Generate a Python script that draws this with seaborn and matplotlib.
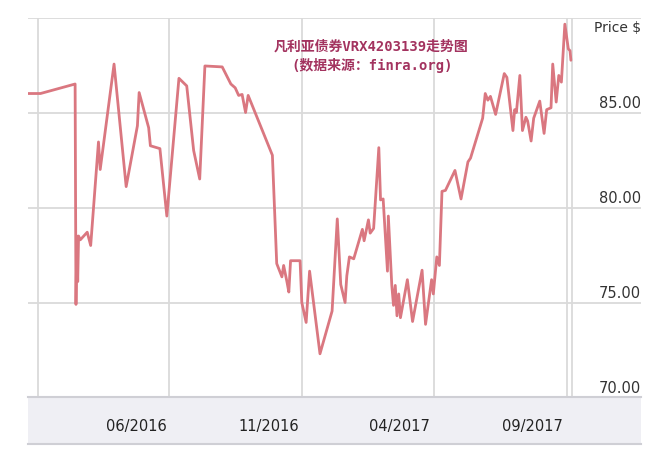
import pandas as pd
import numpy as np
import matplotlib
matplotlib.use('Agg')
import matplotlib.pyplot as plt
import matplotlib.dates as mdates
import seaborn as sns

# price history
dates = ['2016-01-27', '2016-02-11', '2016-03-22', '2016-03-23', '2016-03-24', '2016-03-25',
         '2016-03-26', '2016-03-28', '2016-04-05', '2016-04-09', '2016-04-18', '2016-04-20',
         '2016-05-06', '2016-05-20', '2016-06-02', '2016-06-04', '2016-06-15', '2016-06-17',
         '2016-06-28', '2016-07-06', '2016-07-20', '2016-07-29', '2016-08-06', '2016-08-13',
         '2016-08-19', '2016-09-08', '2016-09-18', '2016-09-23', '2016-09-27', '2016-10-01',
         '2016-10-05', '2016-10-08', '2016-11-05', '2016-11-10', '2016-11-16', '2016-11-18',
         '2016-11-22', '2016-11-24', '2016-11-26', '2016-12-07', '2016-12-09', '2016-12-14',
         '2016-12-18', '2016-12-30', '2017-01-13', '2017-01-19', '2017-01-23', '2017-01-28',
         '2017-01-30', '2017-02-02', '2017-02-07', '2017-02-17', '2017-02-19', '2017-02-24',
         '2017-02-26', '2017-03-02', '2017-03-08', '2017-03-10', '2017-03-13', '2017-03-18',
         '2017-03-19', '2017-03-23', '2017-03-25', '2017-03-27', '2017-03-29', '2017-03-31',
         '2017-04-02', '2017-04-10', '2017-04-16', '2017-04-27', '2017-05-01', '2017-05-08',
         '2017-05-10', '2017-05-14', '2017-05-17', '2017-05-20', '2017-05-24', '2017-06-04',
         '2017-06-11', '2017-06-19', '2017-06-22', '2017-07-06', '2017-07-09', '2017-07-12',
         '2017-07-15', '2017-07-21', '2017-07-31', '2017-08-03', '2017-08-10', '2017-08-12',
         '2017-08-14', '2017-08-18', '2017-08-21', '2017-08-25', '2017-08-27', '2017-08-31',
         '2017-09-03', '2017-09-10', '2017-09-15', '2017-09-18', '2017-09-23', '2017-09-25',
         '2017-09-29', '2017-10-02', '2017-10-05', '2017-10-09', '2017-10-13', '2017-10-15',
         '2017-10-16']
prices = [86.0, 86.0, 86.5, 74.9, 78.5, 76.1,
          78.5, 78.3, 78.7, 78.0, 83.45, 82.0,
          87.55, 81.1, 84.3, 86.05, 84.2, 83.25,
          83.1, 79.55, 86.8, 86.4, 83.0, 81.5,
          87.45, 87.4, 86.5, 86.3, 85.9, 85.95,
          85.0, 85.9, 82.75, 77.05, 76.35, 76.95,
          76.05, 75.55, 77.2, 77.2, 75.0, 73.95,
          76.65, 72.3, 74.55, 79.4, 75.95, 75.0,
          76.4, 77.4, 77.3, 78.85, 78.25, 79.35,
          78.65, 78.9, 83.15, 80.4, 80.45, 76.65,
          79.55, 75.9, 74.85, 75.9, 74.3, 75.45,
          74.2, 76.2, 74.0, 76.7, 73.85, 76.2,
          75.45, 77.4, 76.95, 80.85, 80.9, 81.95,
          80.45, 82.4, 82.6, 84.7, 86.0, 85.65,
          85.85, 84.9, 87.05, 86.85, 84.05, 85.15,
          85.0, 86.95, 84.05, 84.75, 84.55, 83.5,
          84.7, 85.6, 83.9, 85.15, 85.25, 87.55,
          85.55, 86.95, 86.6, 89.65, 88.35, 88.25,
          87.75]

y_labels = [70, 75, 80, 85]
y_grid = [70, 75, 80, 85, 90]
x_label_dates = ['2016-06-01', '2016-11-01', '2017-04-01', '2017-09-01']
x_label_text = ['06/2016', '11/2016', '04/2017', '09/2017']
x_grid_dates = ['2016-02-08', '2016-07-09', '2016-12-09', '2017-05-11', '2017-10-11', '2017-10-17']
x_range = ['2016-01-27', '2018-01-05']

df = pd.DataFrame({'date': pd.to_datetime(dates), 'price': prices})

sns.set_style('white')
plt.rcParams['font.family'] = ['DejaVu Sans', 'Noto Sans CJK SC']

fig = plt.figure(figsize=(6.6, 4.56), dpi=100)
ax = fig.add_axes([0.0417, 0.1261, 0.9295, 0.8333])
band = fig.add_axes([0.0417, 0.0241, 0.9295, 0.1020])

sns.lineplot(data=df, x='date', y='price', ax=ax, sort=False, estimator=None,
             color='#da7780', linewidth=2.0)

xmin, xmax = pd.to_datetime(x_range)
ax.set_xlim(xmin, xmax)
ax.set_ylim(70, 90)
ax.set_xticks(pd.to_datetime(x_grid_dates))
ax.set_yticks(y_grid)
ax.tick_params(length=0, labelleft=False, labelbottom=False)
ax.grid(True, color='#dadada', linewidth=1.3)
ax.set_axisbelow(True)
ax.set_xlabel('')
ax.set_ylabel('')
for s in ax.spines.values():
    s.set_visible(False)

for v in y_labels:
    ax.annotate(f'{v:.2f}', xy=(1.0, v), xycoords=('axes fraction', 'data'),
                xytext=(0, 2), textcoords='offset points', ha='right', va='bottom',
                fontsize=10.5, color='#333333')
ax.annotate('Price $', xy=(1.0, 90), xycoords=('axes fraction', 'data'),
            xytext=(0, -1.5), textcoords='offset points', ha='right', va='top',
            fontsize=10, color='#333333')

# date strip under the plot
band.set_facecolor('#efeff4')
band.set_xlim(xmin, xmax)
band.set_xticks([])
band.set_yticks([])
for side in ['left', 'right']:
    band.spines[side].set_visible(False)
for side in ['top', 'bottom']:
    band.spines[side].set_color('#cfcfd5')
    band.spines[side].set_linewidth(1.5)
for d, t in zip(x_label_dates, x_label_text):
    band.text(mdates.date2num(pd.Timestamp(d)), 0.40, t, transform=band.get_xaxis_transform(),
              ha='center', va='center', fontsize=10.5, color='#222222')

title_font = ['DejaVu Sans Mono', 'Noto Sans CJK SC']
fig.text(0.562, 0.899, '凡利亚债券VRX4203139走势图', ha='center', va='center',
         fontsize=10, fontweight='bold', color='#a3335f', family=title_font)
fig.text(0.564, 0.857, '(数据来源：finra.org)', ha='center', va='center',
         fontsize=10, fontweight='bold', color='#a3335f', family=title_font)

fig.savefig('out.png', dpi=100)
